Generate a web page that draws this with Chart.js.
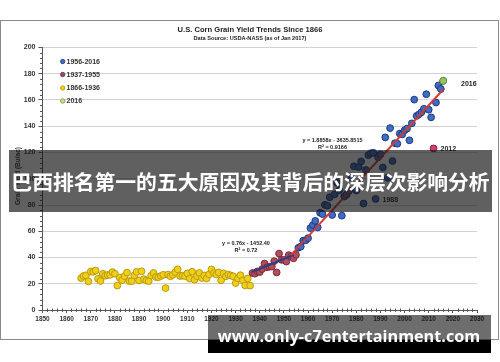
<!DOCTYPE html>
<html><head><meta charset="utf-8">
<script src="https://cdn.jsdelivr.net/npm/chart.js@4/dist/chart.umd.min.js"></script>
<style>html,body{margin:0;padding:0;background:#fff;}canvas{display:block}</style>
</head><body>
<canvas id="c" width="500" height="362"></canvas>
<script>
// ---- data ----
const years1866 = [1866,1867,1868,1869,1870,1871,1872,1873,1874,1875,1876,1877,1878,1879,1880,1881,1882,1883,1884,1885,1886,1887,1888,1889,1890,1891,1892,1893,1894,1895,1896,1897,1898,1899,1900,1901,1902,1903,1904,1905,1906,1907,1908,1909,1910,1911,1912,1913,1914,1915,1916,1917,1918,1919,1920,1921,1922,1923,1924,1925,1926,1927,1928,1929,1930,1931,1932,1933,1934,1935,1936];
const yield1866 = [24.3,25.9,26.4,21.8,29.3,29.1,30.1,23.8,22.1,27.6,26.1,26.7,26.8,28.9,27.6,18.6,24.6,22.7,25.8,28.5,22.0,22.0,26.3,29.0,22.5,29.5,23.5,22.5,22.0,26.2,28.2,25.1,25.0,25.9,26.8,16.7,27.0,25.7,26.8,28.8,31.0,25.9,26.2,25.9,27.9,23.9,29.2,23.1,25.8,28.2,24.4,26.3,24.0,27.1,30.9,28.2,27.0,28.6,22.6,27.9,25.7,27.0,26.3,25.7,20.5,24.1,26.5,22.6,18.7,24.0,18.6];
const years1937 = [1937,1938,1939,1940,1941,1942,1943,1944,1945,1946,1947,1948,1949,1950,1951,1952,1953,1954,1955];
const yield1937 = [28.2,27.7,29.4,28.9,31.2,35.4,32.6,33.0,33.1,37.2,28.6,43.0,38.2,38.2,36.9,41.8,40.7,39.4,42.0];
const years1956 = [1956,1957,1958,1959,1960,1961,1962,1963,1964,1965,1966,1967,1968,1969,1970,1971,1972,1973,1974,1975,1976,1977,1978,1979,1980,1981,1982,1983,1984,1985,1986,1987,1988,1989,1990,1991,1992,1993,1994,1995,1996,1997,1998,1999,2000,2001,2002,2003,2004,2005,2006,2007,2008,2009,2010,2011,2012,2013,2014,2015,2016];
const yield1956 = [47.4,48.3,52.8,53.1,54.7,62.4,64.7,67.9,62.9,74.1,73.1,80.1,79.5,85.9,72.4,88.1,97.0,91.3,71.9,86.4,88.0,90.8,101.0,109.5,91.0,108.9,113.2,81.1,106.7,118.0,119.4,119.8,84.6,116.3,118.5,108.6,131.5,100.7,138.6,113.5,127.1,126.7,134.4,133.8,136.9,138.2,129.3,142.2,160.3,147.9,149.1,150.7,153.3,164.4,152.6,146.8,123.1,158.1,171.0,168.4,174.6];
const years2016 = [2016];
const yield2016 = [174.6];
const trend1937Years = [1937, 1954];
const trend1937Values = [29.0, 42.0];
const trend1956Years = [1953, 2016];
const trend1956Values = [42.0, 168.0];
const highlightYear = 2012;
const seriesLabels = ['1956-2016', '1937-1955', '1866-1936', '2016'];
const xMin = 1850, xMax = 2030, xStep = 10;
const yMin = 0, yMax = 200, yStep = 20;
const chartTitle = 'U.S. Corn Grain Yield Trends Since 1866';
const chartSubtitle = 'Data Source: USDA-NASS (as of Jan 2017)';
const yAxisTitle = 'Grain Yield (Bu/ac)';
const eqLow = ['y = 0.76x - 1452.40', 'R\u00b2 = 0.72'];
const eqHigh = ['y = 1.8858x - 3635.8515', 'R\u00b2 = 0.9166'];
const bannerText = '巴西排名第一的五大原因及其背后的深层次影响分析';
const watermarkText = 'www.only-c7entertainment.com';

const pts = (xs, ys) => xs.map((x, i) => ({x: x, y: ys[i]}));

const C = {
  blue: '#3d6dc4', blueEdge: '#1f3a78',
  red: '#b24d5e', redEdge: '#7a2a3a',
  yellow: '#f1cf17', yellowEdge: '#b89b12',
  green: '#9cc460', greenEdge: '#6c9a34',
  pink: '#d23f6c', pinkEdge: '#8d2043',
  trendRed: '#cf3a3a', trendBlue: '#213f8c'
};
const FONT = "'Liberation Sans', Arial, sans-serif";

const decor = {
  id: 'decor',
  beforeDraw(chart) {
    const ctx = chart.ctx;
    ctx.save();
    ctx.fillStyle = '#fff';
    ctx.fillRect(0, 0, chart.width, chart.height);
    ctx.strokeStyle = '#8a8a8a';
    ctx.lineWidth = 1;
    ctx.strokeRect(0.5, 20.5, 498, 319);
    ctx.restore();
  },
  afterDraw(chart) {
    const ctx = chart.ctx;
    const xs = chart.scales.x, ys = chart.scales.y;
    const a = chart.chartArea;
    ctx.save();
    // minor ticks
    ctx.strokeStyle = '#555';
    ctx.lineWidth = 1;
    ctx.beginPath();
    for (let v = yMin; v <= yMax; v += 4) {
      if (v % yStep === 0) continue;
      const y = Math.round(ys.getPixelForValue(v)) + 0.5;
      ctx.moveTo(a.left - 2.5, y); ctx.lineTo(a.left, y);
    }
    for (let v = xMin; v <= xMax; v += 2) {
      if (v % xStep === 0) continue;
      const x = Math.round(xs.getPixelForValue(v)) + 0.5;
      ctx.moveTo(x, a.bottom - 1.5); ctx.lineTo(x, a.bottom + 2);
    }
    ctx.stroke();

    // titles
    ctx.fillStyle = '#222';
    ctx.textAlign = 'center';
    ctx.textBaseline = 'middle';
    ctx.font = 'bold 7.6px ' + FONT;
    ctx.fillText(chartTitle, 250, 30);
    ctx.font = 'bold 5.6px ' + FONT;
    ctx.fillText(chartSubtitle, 250, 38.5);

    // y axis title
    ctx.save();
    ctx.translate(18, 176);
    ctx.rotate(-Math.PI / 2);
    ctx.font = 'bold 6.5px ' + FONT;
    ctx.fillStyle = '#333';
    ctx.fillText(yAxisTitle, 0, 0);
    ctx.restore();

    // legend
    const legColors = [[C.blue, C.blueEdge], ['#8c4a6c', '#6a3050'], [C.yellow, C.yellowEdge], ['#c9dca8', C.greenEdge]];
    const legY = [61.5, 74.5, 88, 101];
    ctx.textAlign = 'left';
    ctx.font = 'bold 7px ' + FONT;
    seriesLabels.forEach((t, i) => {
      ctx.beginPath();
      ctx.arc(62.7, legY[i], 2.2, 0, Math.PI * 2);
      ctx.fillStyle = legColors[i][0];
      ctx.fill();
      ctx.lineWidth = 0.8;
      ctx.strokeStyle = legColors[i][1];
      ctx.stroke();
      ctx.fillStyle = '#333';
      ctx.fillText(t, 66.5, legY[i] + 0.5);
    });

    // equations
    ctx.textAlign = 'center';
    ctx.font = 'bold 5.5px ' + FONT;
    ctx.fillStyle = '#222';
    ctx.fillText(eqLow[0], 246, 243.5);
    ctx.fillText(eqLow[1], 246, 250.5);
    ctx.fillText(eqHigh[0], 332.5, 140);
    ctx.fillText(eqHigh[1], 332.5, 147);

    // point labels
    ctx.textAlign = 'left';
    ctx.font = 'bold 7px ' + FONT;
    ctx.fillText('2016', 461, 84.5);
    ctx.fillText('2012', 440.5, 149);
    ctx.fillText('1988', 382.5, 200.5);

    // banner overlay
    ctx.fillStyle = 'rgba(20,20,20,0.68)';
    ctx.fillRect(9, 150, 483, 62);
    ctx.fillStyle = '#fff';
    ctx.textAlign = 'center';
    ctx.font = "bold 20.8px 'Noto Sans CJK SC', sans-serif";
    ctx.fillText(bannerText, 250.5, 182.5);

    // watermark
    ctx.fillStyle = 'rgba(20,20,20,0.62)';
    ctx.fillRect(208, 315, 283, 25);
    ctx.fillStyle = '#000';
    ctx.fillRect(208, 340, 283, 13);
    ctx.fillStyle = '#fff';
    ctx.font = "bold 16.2px 'Open Sans', 'Noto Sans', sans-serif";
    ctx.textBaseline = 'alphabetic';
    ctx.fillText(watermarkText, 349, 342);
    ctx.restore();
  }
};

new Chart(document.getElementById('c'), {
  type: 'scatter',
  data: {
    datasets: [
      { label: 'trend1956', data: pts(trend1956Years, trend1956Values), showLine: true, borderColor: C.trendRed, borderWidth: 2, pointRadius: 0, order: 0 },
      { label: 'trend1937', data: pts(trend1937Years, trend1937Values), showLine: true, borderColor: C.trendBlue, borderWidth: 2, pointRadius: 0, order: 0 },
      { label: seriesLabels[3], data: pts(years2016, yield2016), pointRadius: 3.4, pointBorderWidth: 1, backgroundColor: C.green, borderColor: C.greenEdge, order: 1 },
      { label: seriesLabels[0], data: pts(years1956, yield1956), pointRadius: 3.4, pointBorderWidth: 1,
        backgroundColor: c => (c.raw && c.raw.x === highlightYear) ? C.pink : C.blue,
        borderColor: c => (c.raw && c.raw.x === highlightYear) ? C.pinkEdge : C.blueEdge, order: 2 },
      { label: seriesLabels[1], data: pts(years1937, yield1937), pointRadius: 3.4, pointBorderWidth: 1, backgroundColor: C.red, borderColor: C.redEdge, order: 3 },
      { label: seriesLabels[2], data: pts(years1866, yield1866), pointRadius: 3.4, pointBorderWidth: 1, backgroundColor: C.yellow, borderColor: C.yellowEdge, order: 4 }
    ]
  },
  options: {
    responsive: false,
    animation: false,
    devicePixelRatio: 1,
    layout: { padding: { top: 47.5, right: 23, left: 0, bottom: 0 } },
    plugins: { legend: { display: false }, tooltip: { enabled: false } },
    scales: {
      x: {
        type: 'linear', min: xMin, max: xMax,
        afterFit: s => { s.height = 52; },
        ticks: { stepSize: xStep, callback: v => String(v), font: { family: FONT, size: 6.5, weight: 'bold' }, color: '#333', padding: 2, maxRotation: 0, autoSkip: false },
        grid: { drawOnChartArea: false, tickLength: 3, tickColor: '#555' },
        border: { color: '#555', width: 1 }
      },
      y: {
        min: yMin, max: yMax,
        afterFit: s => { s.width = 42.5; },
        ticks: { stepSize: yStep, font: { family: FONT, size: 7, weight: 'bold' }, color: '#333', padding: 3 },
        grid: { color: '#d2d2d2', tickLength: 4, tickColor: '#555' },
        border: { color: '#555', width: 1 }
      }
    }
  },
  plugins: [decor]
});
</script>
</body></html>
